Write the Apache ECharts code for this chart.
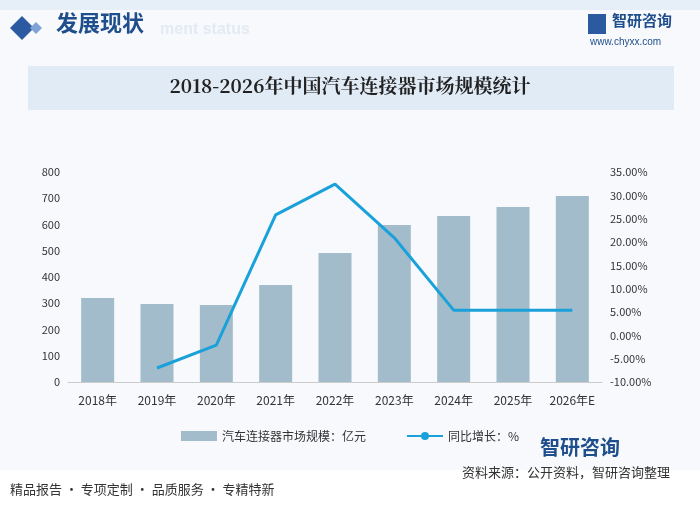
<!DOCTYPE html>
<html lang="zh">
<head>
<meta charset="UTF-8">
<script src="https://cdn.jsdelivr.net/npm/echarts@6/dist/echarts.min.js"></script>
</head>
<body style="margin:0;background:#fff">
<div id="main" style="width:700px;height:505px;"></div>
<script>
var years = ['2018年', '2019年', '2020年', '2021年', '2022年', '2023年', '2024年', '2025年', '2026年E'];
var marketSize = [320, 297, 293, 370, 491, 598, 632, 667, 709];
var growth = [null, -7.0, -2.1, 25.8, 32.4, 20.9, 5.4, 5.4, 5.4];

var chart = echarts.init(document.getElementById('main'));
var font = '"Noto Sans CJK SC", sans-serif';
chart.setOption({
  textStyle: { fontFamily: font },
  graphic: [
    { type: 'rect', shape: { x: 0, y: 0, width: 700, height: 505 }, style: { fill: '#f7f9fc' }, z: -10 },
    { type: 'rect', shape: { x: 0, y: 0, width: 700, height: 10 }, style: { fill: '#e6eef7' }, z: -9 },
    { type: 'polygon', shape: { points: [[22, 16], [34, 28], [22, 40], [10, 28]] }, style: { fill: '#2c5aa0' } },
    { type: 'polygon', shape: { points: [[36, 22], [42, 28], [36, 34], [30, 28]] }, style: { fill: '#7fa3d6' } },
    { type: 'text', left: 160, top: 22, style: { text: 'ment status', fill: '#e3eaf3', font: 'bold 16px sans-serif' } },
    { type: 'text', left: 56, top: 12, style: { text: '发展现状', fill: '#1f4e8c', font: 'bold 22px ' + font } },
    { type: 'text', left: 612, top: 13, style: { text: '智研咨询', fill: '#1f4e8c', font: 'bold 15px ' + font } },
    { type: 'text', left: 590, top: 37, style: { text: 'www.chyxx.com', fill: '#1f4e8c', font: '10px sans-serif' } },
    { type: 'rect', shape: { x: 588, y: 14, width: 18, height: 20 }, style: { fill: '#2c5aa0' } },
    { type: 'rect', shape: { x: 28, y: 66, width: 646, height: 44 }, style: { fill: '#e1ebf6' } },
    { type: 'text', left: 'center', top: 76, style: { text: '2018-2026年中国汽车连接器市场规模统计', fill: '#222', font: 'bold 19px "Noto Serif CJK SC", ' + font } },
    { type: 'rect', shape: { x: 0, y: 470, width: 700, height: 35 }, style: { fill: '#ffffff' } },
    { type: 'text', left: 10, top: 483, style: { text: '精品报告 · 专项定制 · 品质服务 · 专精特新', fill: '#333', font: '13px ' + font } },
    { type: 'text', left: 540, top: 437, style: { text: '智研咨询', fill: '#1f4e8c', font: 'bold 20px ' + font } },
    { type: 'text', left: 462, top: 466, style: { text: '资料来源：公开资料，智研咨询整理', fill: '#333', font: '13px ' + font } }
  ],
  legend: {
    top: 425, left: 'center', itemGap: 40,
    textStyle: { fontSize: 12, color: '#333' },
    data: [
      { name: '汽车连接器市场规模：亿元', icon: 'rect' },
      { name: '同比增长：%' }
    ],
    itemWidth: 36, itemHeight: 10
  },
  grid: { left: 68, right: 98, top: 172, bottom: 123 },
  xAxis: {
    type: 'category', data: years,
    axisLine: { lineStyle: { color: '#ccc' } }, axisTick: { show: false },
    axisLabel: { color: '#333', fontSize: 12, margin: 12, interval: 0 }
  },
  yAxis: [
    { type: 'value', min: 0, max: 800, interval: 100, splitLine: { show: false },
      axisLabel: { color: '#333', fontSize: 11 } },
    { type: 'value', min: -10, max: 35, interval: 5, splitLine: { show: false },
      axisLabel: { color: '#333', fontSize: 11, formatter: function (v) { return v.toFixed(2) + '%'; } } }
  ],
  series: [
    { name: '汽车连接器市场规模：亿元', type: 'bar', data: marketSize, barWidth: 33,
      itemStyle: { color: '#a3bccb' } },
    { name: '同比增长：%', type: 'line', yAxisIndex: 1, data: growth, symbol: 'none',
      lineStyle: { color: '#1ba1d9', width: 3 }, itemStyle: { color: '#1ba1d9' } }
  ]
});
</script>
</body>
</html>
